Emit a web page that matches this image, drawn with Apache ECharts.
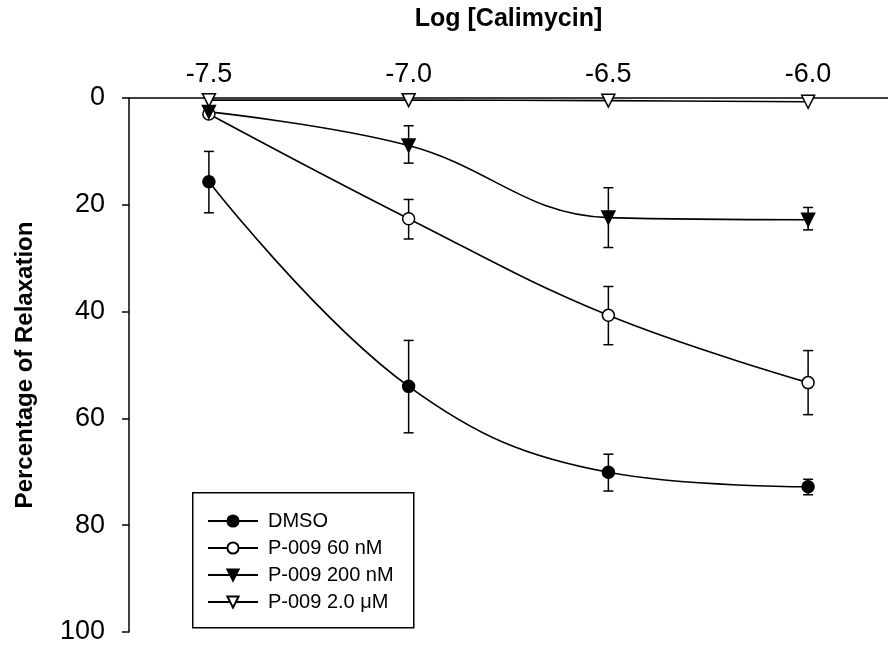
<!DOCTYPE html>
<html>
<head>
<meta charset="utf-8">
<script src="https://cdn.jsdelivr.net/npm/echarts@6/dist/echarts.min.js"></script>
<style>html,body{margin:0;padding:0;background:#fff}#c{width:888px;height:648px}</style>
</head>
<body>
<div id="c"></div>
<script>
var logDose = [-7.5, -7.0, -6.5, -6.0];
var xTicks = [-7.5, -7.0, -6.5, -6.0];
var yTicks = [0, 20, 40, 60, 80, 100];
var seriesNames = ['DMSO', 'P-009 60 nM', 'P-009 200 nM', 'P-009 2.0 \u03bcM'];
var dmso = [15.7, 54.0, 70.1, 72.8];
var dmsoLow = [10.0, 45.4, 66.7, 71.4];
var dmsoHigh = [21.5, 62.7, 73.6, 74.3];
var p60 = [3.0, 22.6, 40.7, 53.3];
var p60Low = [3.0, 19.0, 35.3, 47.3];
var p60High = [3.0, 26.4, 46.2, 59.3];
var p200 = [2.6, 8.9, 22.4, 22.8];
var p200Low = [2.6, 5.2, 16.8, 20.5];
var p200High = [2.6, 12.2, 28.0, 24.7];
var p2u = [0.4, 0.4, 0.5, 0.7];

function pts(vals) { return logDose.map(function (x, i) { return [x, vals[i]]; }); }
function errPts(lo, hi) { return logDose.map(function (x, i) { return [x, lo[i], hi[i]]; }); }

var allErr = errPts(dmsoLow, dmsoHigh).concat(errPts(p60Low, p60High)).concat(errPts(p200Low, p200High));

function renderErr(params, api) {
  var x = api.value(0);
  var a = api.coord([x, api.value(1)]);
  var b = api.coord([x, api.value(2)]);
  var w = 5;
  var st = { stroke: '#000', lineWidth: 1.5 };
  return {
    type: 'group',
    children: [
      { type: 'line', shape: { x1: a[0], y1: a[1], x2: b[0], y2: b[1] }, style: st },
      { type: 'line', shape: { x1: a[0] - w, y1: a[1], x2: a[0] + w, y2: a[1] }, style: st },
      { type: 'line', shape: { x1: b[0] - w, y1: b[1], x2: b[0] + w, y2: b[1] }, style: st }
    ]
  };
}

var lineStyle = { color: '#000', width: 1.6 };
function lineSeries(name, vals, symbol, fill, rot, size) {
  return {
    name: name, type: 'line', data: pts(vals), smooth: 0.4,
    symbol: symbol, symbolSize: size, symbolRotate: rot,
    showAllSymbol: true,
    lineStyle: lineStyle,
    itemStyle: { color: fill, borderColor: '#000', borderWidth: 1.5 },
    z: 3
  };
}

var chart = echarts.init(document.getElementById('c'), null, { renderer: 'canvas' });
chart.setOption({
  animation: false,
  backgroundColor: '#fff',
  grid: { left: 129, top: 98, right: 0, bottom: 16 },
  xAxis: {
    type: 'value', position: 'top', min: -7.7, max: -5.8,
    name: 'Log [Calimycin]', nameLocation: 'middle', nameGap: 66,
    nameTextStyle: { fontFamily: 'Liberation Sans', fontWeight: 'bold', fontSize: 25, color: '#000' },
    axisLine: { show: true, onZero: false, lineStyle: { color: '#000', width: 1.5 } },
    axisTick: { show: false },
    splitLine: { show: false },
    axisLabel: {
      customValues: xTicks, margin: 10,
      fontFamily: 'Liberation Sans', fontSize: 27, color: '#000',
      formatter: function (v) { return v.toFixed(1); }
    }
  },
  yAxis: {
    type: 'value', inverse: true, min: 0, max: 100, interval: 20,
    name: 'Percentage of Relaxation', nameLocation: 'middle', nameGap: 92,
    nameTextStyle: { fontFamily: 'Liberation Sans', fontWeight: 'bold', fontSize: 24, color: '#000' },
    axisLine: { show: true, onZero: false, lineStyle: { color: '#000', width: 1.5 } },
    axisTick: { show: true, length: 7, lineStyle: { color: '#000', width: 1.5 } },
    splitLine: { show: false },
    axisLabel: {
      customValues: yTicks, margin: 24,
      fontFamily: 'Liberation Sans', fontSize: 27, color: '#000'
    }
  },
  legend: {
    orient: 'vertical', left: 207, top: 511, padding: 0,
    itemWidth: 50, itemHeight: 14, itemGap: 7,
    data: seriesNames,
    textStyle: { fontFamily: 'Liberation Sans', fontSize: 20, color: '#000', padding: [0, 0, 0, 5] }
  },
  graphic: [{
    type: 'rect', left: 192, top: 492, z: 0,
    shape: { width: 221, height: 135 },
    style: { fill: '#fff', stroke: '#000', lineWidth: 1.5 }
  }],
  series: [
    { type: 'custom', name: 'err', renderItem: renderErr, data: allErr, z: 2, silent: true },
    lineSeries(seriesNames[0], dmso, 'circle', '#000', 0, 12),
    lineSeries(seriesNames[1], p60, 'circle', '#fff', 0, 12),
    lineSeries(seriesNames[2], p200, 'triangle', '#000', 180, 13),
    lineSeries(seriesNames[3], p2u, 'triangle', '#fff', 180, 13)
  ]
});
</script>
</body>
</html>
